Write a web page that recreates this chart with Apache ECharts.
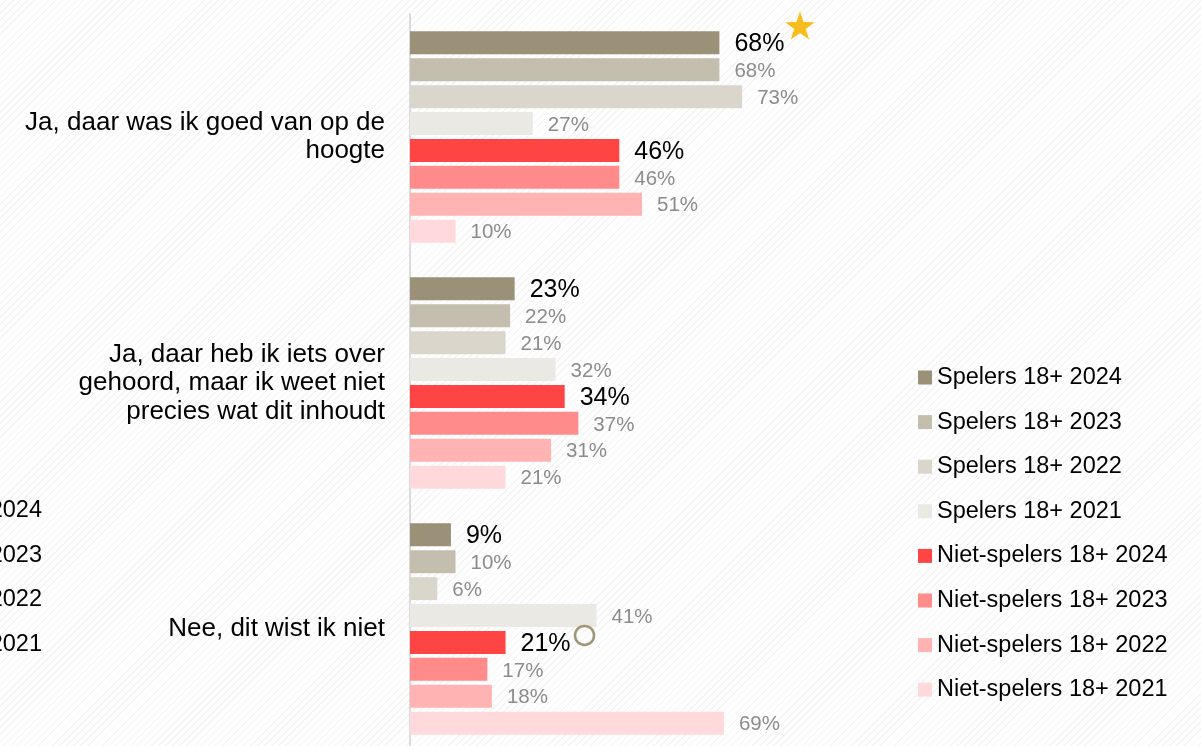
<!DOCTYPE html>
<html>
<head>
<meta charset="utf-8">
<script src="https://cdn.jsdelivr.net/npm/echarts@6/dist/echarts.min.js"></script>
<style>
  html, body { margin: 0; padding: 0; }
  #chart {
    width: 1201px; height: 746px;
    background: repeating-linear-gradient(135deg, #ffffff 0px, #ffffff 4px, #f4f4f4 4px, #f4f4f4 5px);
  }
</style>
</head>
<body>
<div id="chart"></div>
<script>
// categories (top to bottom)
const categories = [
  'Ja, daar was ik goed van op de\nhoogte',
  'Ja, daar heb ik iets over\ngehoord, maar ik weet niet\nprecies wat dit inhoudt',
  'Nee, dit wist ik niet'
];

// series names, in drawing order (top bar first)
const seriesNames = [
  'Spelers 18+ 2024', 'Spelers 18+ 2023', 'Spelers 18+ 2022', 'Spelers 18+ 2021',
  'Niet-spelers 18+ 2024', 'Niet-spelers 18+ 2023', 'Niet-spelers 18+ 2022', 'Niet-spelers 18+ 2021'
];

// percentages per series, one value per category
const spelers2024 = [68, 23, 9];
const spelers2023 = [68, 22, 10];
const spelers2022 = [73, 21, 6];
const spelers2021 = [27, 32, 41];
const niet2024 = [46, 34, 21];
const niet2023 = [46, 37, 17];
const niet2022 = [51, 31, 18];
const niet2021 = [10, 21, 69];

// cut-off labels of a second legend at the left edge
const leftLabels = ['2024', '2023', '2022', '2021'];

const colors = ['#9b9178', '#c4beaf', '#dad6cc', '#eae9e4', '#ff4444', '#ff8b8b', '#ffb3b3', '#ffd9db'];
const allData = [spelers2024, spelers2023, spelers2022, spelers2021, niet2024, niet2023, niet2022, niet2021];

const FONT = 'Liberation Sans, Arial, sans-serif';

const chart = echarts.init(document.getElementById('chart'));

// five-pointed star outline for the highlight marker
function starPoints(cx, cy, rOut, rIn) {
  const pts = [];
  for (let k = 0; k < 10; k++) {
    const r = k % 2 === 0 ? rOut : rIn;
    const a = -Math.PI / 2 + k * Math.PI / 5;
    pts.push([cx + r * Math.cos(a), cy + r * Math.sin(a)]);
  }
  return pts;
}

const series = seriesNames.map((name, i) => {
  const highlight = name.indexOf('2024') !== -1;
  const s = {
    name: name,
    type: 'bar',
    data: allData[i],
    barWidth: 23,
    barGap: '17%',
    itemStyle: { color: colors[i] },
    label: {
      show: true,
      position: 'right',
      distance: 15,
      offset: [0, 1.5],
      formatter: '{c}%',
      fontFamily: FONT,
      fontSize: highlight ? 25 : 20.5,
      color: highlight ? '#000000' : '#8c8c8c'
    },
    emphasis: { disabled: true },
    animation: false
  };
  if (i === 4) {
    s.markPoint = {
      silent: true,
      data: [{ coord: [21, 2], symbol: 'circle', symbolSize: 19, symbolOffset: [79, -7],
               itemStyle: { color: 'rgba(0,0,0,0)', borderColor: '#a09479', borderWidth: 2.5 },
               label: { show: false } }]
    };
  }
  return s;
});

const graphics = leftLabels.map((t, i) => ({
  type: 'text',
  x: 42,
  y: 511 + i * 44.4,
  silent: true,
  style: {
    text: t,
    fontFamily: FONT,
    fontSize: 23.5,
    fill: '#000000',
    align: 'right',
    verticalAlign: 'middle'
  }
}));
graphics.push({
  type: 'polygon',
  silent: true,
  shape: { points: starPoints(800, 27, 15.5, 6.1) },
  style: { fill: '#f8bc1c' }
});

const option = {
  backgroundColor: 'transparent',
  animation: false,
  grid: { left: 410, top: 14, width: 455, height: 738, outerBoundsMode: 'none', containLabel: false },
  xAxis: {
    type: 'value', min: 0, max: 100, show: false
  },
  yAxis: {
    type: 'category',
    data: categories,
    inverse: true,
    axisLine: { show: true, lineStyle: { color: '#d0d0d0', width: 1.5 } },
    axisTick: { show: false },
    axisLabel: {
      margin: 25,
      fontFamily: FONT,
      fontSize: 26,
      lineHeight: 28.5,
      color: '#000000',
      align: 'right'
    }
  },
  legend: {
    orient: 'vertical',
    left: 913,
    top: 360.5,
    icon: 'rect',
    itemWidth: 14,
    itemHeight: 14,
    itemGap: 20.6,
    selectedMode: false,
    data: seriesNames,
    textStyle: {
      fontFamily: FONT,
      fontSize: 23.5,
      lineHeight: 24,
      color: '#000000'
    }
  },
  graphic: graphics,
  series: series
};

chart.setOption(option);
</script>
</body>
</html>
